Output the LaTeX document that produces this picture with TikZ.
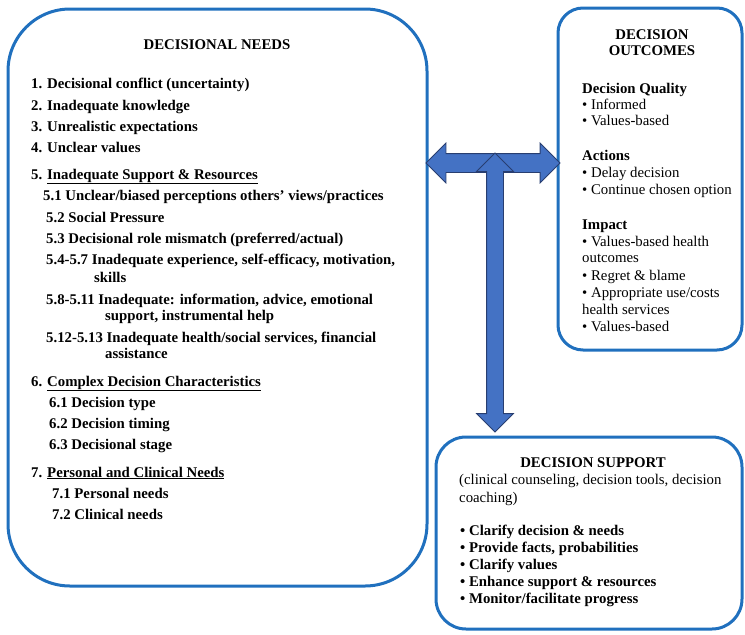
\documentclass[tikz,border=0pt]{standalone}
\usepackage{fontspec}
\setmainfont{Liberation Serif}
\usepackage{xcolor}
\usepackage{tikz}
\usetikzlibrary{shapes.arrows}
\definecolor{rim}{RGB}{32,112,190}
\definecolor{blk}{RGB}{68,114,196}
\definecolor{blkedge}{RGB}{40,62,112}
\newcommand{\Ul}[1]{\underline{#1}}

\begin{document}
\begin{tikzpicture}[
  x=1pt,y=-1pt,
  font=\fontsize{14.8}{17}\selectfont,
  panel/.style={draw=rim,line width=3pt,inner sep=0pt},
  it/.style={anchor=base west,inner sep=0pt,font=\fontsize{14.8}{17}\selectfont\bfseries},
  tx/.style={anchor=base west,inner sep=0pt},
  hd/.style={anchor=base,inner sep=0pt,font=\fontsize{14.8}{17}\selectfont\bfseries},
  blkarrow/.style={double arrow,fill=blk,draw=blkedge,line width=0.8pt,
                   inner xsep=0pt,double arrow head extend=10.5pt}]

\useasboundingbox (0,0) rectangle (745,635);

% the three panels
\node[panel,rounded corners=62pt,minimum width=419pt,minimum height=577pt]
  (nd) at (217.5,297.5) {};
\node[panel,rounded corners=25pt,minimum width=184pt,minimum height=342pt]
  (oc) at (650,179) {};
\node[panel,rounded corners=30pt,minimum width=306pt,minimum height=192pt]
  (sp) at (589,533) {};

% block arrows
\node[blkarrow,inner ysep=9pt,minimum height=134pt] (hx) at (493,163) {};
\node[blkarrow,inner ysep=8pt,double arrow head extend=10pt,
      minimum height=279pt,rotate=90] (vx) at (495,292.5) {};

% decisional needs
\node[hd] (ndh) at (217,49) {DECISIONAL NEEDS};
\node[it] (n1) at (31,88)  {1. Decisional conflict (uncertainty)};
\node[it] (n2) at (31,110) {2. Inadequate knowledge};
\node[it] (n3) at (31,131) {3. Unrealistic expectations};
\node[it] (n4) at (31,152) {4. Unclear values};
\node[it] (n5) at (31,179) {5. \Ul{Inadequate Support \& Resources}};
\node[it] (n51) at (43,200) {5.1 Unclear/biased perceptions others’ views/practices};
\node[it] (n52) at (46,222) {5.2 Social Pressure};
\node[it] (n53) at (46,243) {5.3 Decisional role mismatch (preferred/actual)};
\node[it] (n54) at (46,264) {5.4-5.7 Inadequate experience, self-efficacy, motivation,};
\node[it] (n54b) at (94,282) {skills};
\node[it] (n58) at (46,304) {5.8-5.11 Inadequate: information, advice, emotional};
\node[it] (n58b) at (105,320) {support, instrumental help};
\node[it] (n512) at (46,342) {5.12-5.13 Inadequate health/social services, financial};
\node[it] (n512b) at (105,358) {assistance};
\node[it] (n6) at (31,386) {6. \Ul{Complex Decision Characteristics}};
\node[it] (n61) at (49,407) {6.1 Decision type};
\node[it] (n62) at (49,428) {6.2 Decision timing};
\node[it] (n63) at (49,449) {6.3 Decisional stage};
\node[it] (n7) at (31,477) {7. \Ul{Personal and Clinical Needs}};
\node[it] (n71) at (52,498) {7.1 Personal needs};
\node[it] (n72) at (52,519) {7.2 Clinical needs};

% decision outcomes
\node[hd] (och) at (652,39) {DECISION};
\node[hd] (och2) at (652,55) {OUTCOMES};
\node[it] (q) at (582,93) {Decision Quality};
\node[tx] (q1) at (582,109) {• Informed};
\node[tx] (q2) at (582,125) {• Values-based};
\node[it] (a) at (582,160) {Actions};
\node[tx] (a1) at (582,177) {• Delay decision};
\node[tx] (a2) at (582,194) {• Continue chosen option};
\node[it] (im) at (582,229) {Impact};
\node[tx] (im1) at (582,246) {• Values-based health};
\node[tx] (im1b) at (582,262) {outcomes};
\node[tx] (im2) at (582,280) {• Regret \& blame};
\node[tx] (im3) at (582,297) {• Appropriate use/costs};
\node[tx] (im3b) at (582,314) {health services};
\node[tx] (im4) at (582,331) {• Values-based};

% decision support
\node[hd] (sph) at (593,467) {DECISION SUPPORT};
\node[tx] (sp1) at (459,484) {(clinical counseling, decision tools, decision};
\node[tx] (sp1b) at (459,502) {coaching)};
\node[it] (s1) at (460,535) {• Clarify decision \& needs};
\node[it] (s2) at (460,552) {• Provide facts, probabilities};
\node[it] (s3) at (460,569) {• Clarify values};
\node[it] (s4) at (460,586) {• Enhance support \& resources};
\node[it] (s5) at (460,603) {• Monitor/facilitate progress};
\end{tikzpicture}
\end{document}
